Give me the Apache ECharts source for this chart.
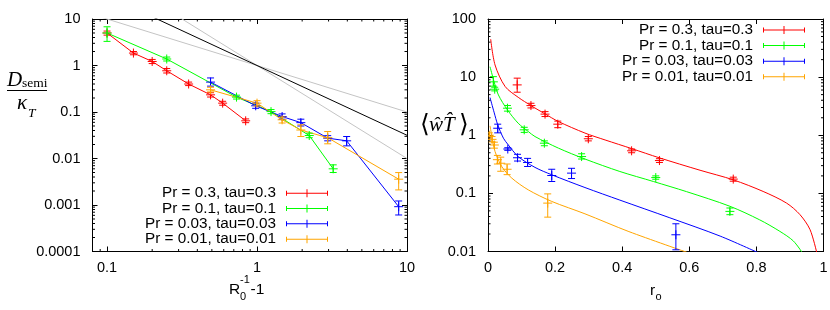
<!DOCTYPE html>
<html><head><meta charset="utf-8">
<script src="https://cdn.jsdelivr.net/npm/echarts@6/dist/echarts.min.js"></script>
<style>html,body{margin:0;padding:0;background:#fff}#c{width:830px;height:310px}</style>
</head><body><div id="c"></div>
<script>
// ---------- names / colours ----------
const seriesNames = ['Pr = 0.3, tau=0.3', 'Pr = 0.1, tau=0.1', 'Pr = 0.03, tau=0.03', 'Pr = 0.01, tau=0.01'];
const seriesColors = ['#ff0000', '#00ff00', '#0000ff', '#ffa500'];

// ---------- left panel: [x, y, yLow, yHigh] ----------
const leftPr03 = [[0.1,5.0,4.5,5.5],[0.15,1.85,1.7,2.0],[0.2,1.22,1.1,1.35],[0.25,0.77,0.69,0.86],[0.35,0.40,0.37,0.44],[0.49,0.234,0.21,0.26],[0.59,0.155,0.14,0.17],[0.84,0.0646,0.059,0.071]];
const leftPr01 = [[0.1,5.0,3.3,6.8],[0.25,1.38,1.25,1.52],[0.73,0.209,0.19,0.23],[1.24,0.102,0.092,0.113],[2.23,0.0312,0.028,0.035],[3.22,0.006,0.005,0.0073]];
const leftPr003 = [[0.49,0.44,0.36,0.54],[0.98,0.136,0.12,0.155],[1.47,0.08,0.07,0.091],[1.96,0.059,0.05,0.07],[2.96,0.0274,0.024,0.031],[3.96,0.024,0.0187,0.0297],[8.8,0.00092,0.00061,0.00122]];
const leftPr001 = [[0.49,0.30,0.27,0.34],[1.0,0.155,0.135,0.175],[1.47,0.068,0.058,0.078],[1.96,0.041,0.0297,0.053],[2.96,0.028,0.0207,0.038],[8.8,0.00359,0.00211,0.00498]];
// reference power-law lines (end points)
const refBlack = [[0.08,44.2],[10,0.0316]];
const refGrayA = [[0.08,12.5],[10,0.1]];
const refGrayB = [[0.08,156.25],[10,0.01]];

// ---------- right panel ----------
const rightPtsPr03 = [[0.087,7.35,5.5,9.6],[0.128,3.24,2.95,3.55],[0.17,2.31,2.1,2.55],[0.208,1.55,1.35,1.75],[0.299,0.87,0.8,0.95],[0.428,0.54,0.5,0.58],[0.511,0.367,0.34,0.395],[0.731,0.176,0.162,0.19]];
const rightPtsPr01 = [[0.016,8.3,7.0,10.2],[0.02,6.2,5.8,6.7],[0.058,2.92,2.6,3.25],[0.108,1.24,1.12,1.37],[0.168,0.73,0.66,0.8],[0.279,0.43,0.39,0.48],[0.5,0.187,0.175,0.2],[0.721,0.049,0.043,0.056]];
const rightPtsPr003 = [[0.029,1.32,1.1,1.55],[0.059,0.58,0.55,0.61],[0.088,0.41,0.36,0.47],[0.118,0.34,0.29,0.4],[0.19,0.203,0.16,0.26],[0.249,0.223,0.18,0.27],[0.56,0.0194,0.0107,0.03]];
const rightPtsPr001 = [[0.004,1.0,0.9,1.1],[0.012,0.85,0.77,0.95],[0.019,0.68,0.6,0.76],[0.028,0.38,0.32,0.45],[0.038,0.33,0.24,0.42],[0.057,0.26,0.21,0.32],[0.178,0.068,0.039,0.098]];
const rightCurvePr03 = [[0.008,45],[0.021,16.2],[0.051,6.9],[0.09,4.5],[0.128,3.24],[0.17,2.33],[0.21,1.72],[0.289,1.09],[0.349,0.83],[0.428,0.59],[0.51,0.41],[0.632,0.25],[0.731,0.171],[0.82,0.108],[0.89,0.068],[0.93,0.043],[0.96,0.0237],[0.98,0.0095]];
const rightCurvePr01 = [[0.006,15.1],[0.018,8.4],[0.031,4.94],[0.058,2.73],[0.09,1.61],[0.12,1.16],[0.14,0.95],[0.21,0.60],[0.289,0.39],[0.393,0.238],[0.493,0.16],[0.592,0.107],[0.721,0.06],[0.81,0.035],[0.87,0.0222],[0.91,0.0152],[0.937,0.0095]];
const rightCurvePr003 = [[0.006,4.45],[0.018,2.5],[0.029,1.51],[0.046,0.89],[0.059,0.70],[0.09,0.43],[0.14,0.28],[0.19,0.209],[0.289,0.126],[0.393,0.0766],[0.542,0.038],[0.692,0.0184],[0.806,0.0095]];
const rightCurvePr001 = [[0.006,1.45],[0.011,1.0],[0.021,0.525],[0.041,0.29],[0.071,0.183],[0.12,0.115],[0.19,0.0727],[0.289,0.0445],[0.42,0.022],[0.597,0.0095]];

// ---------- axes / ticks ----------
const leftXRange = [0.08, 10];
const leftYRange = [0.0001, 10];
const rightXRange = [0, 1];
const rightYRange = [0.01, 100];
const leftXTickLabels = ['0.1', '1', '10'];
const leftYTickLabels = ['0.0001', '0.001', '0.01', '0.1', '1', '10'];
const rightYTickLabels = ['0.01', '0.1', '1', '10', '100'];
const rightXTickLabels = ['0', '0.2', '0.4', '0.6', '0.8', '1'];
const leftXMinor = [0.09, 0.2, 0.3, 0.4, 0.5, 0.6, 0.7, 0.8, 0.9, 2, 3, 4, 5, 6, 7, 8, 9];
const leftYMinor = [];
[-4, -3, -2, -1, 0].forEach(e => { for (let m = 2; m <= 9; m++) leftYMinor.push(m * Math.pow(10, e)); });
const rightYMinor = [];
[-2, -1, 0, 1].forEach(e => { for (let m = 2; m <= 9; m++) rightYMinor.push(m * Math.pow(10, e)); });

const SANS = '"Liberation Sans", Arial, Helvetica, sans-serif';
const SERIF = '"Liberation Serif", "DejaVu Serif", serif';

function logLabel(labels, firstExp) {
  return function (v) {
    const l = Math.log10(v), e = Math.round(l);
    if (Math.abs(l - e) > 1e-6) return '';
    return labels[e - firstExp] || '';
  };
}

function makeAxis(opts) {
  return Object.assign({
    axisLine: { show: true, onZero: false, lineStyle: { color: '#000', width: 1 } },
    axisTick: { show: true, inside: true, length: 5, lineStyle: { color: '#000', width: 1 } },
    splitLine: { show: false },
    minorTick: { show: false },
    axisLabel: { show: true, color: '#000', fontSize: 14.5, fontFamily: SANS }
  }, opts);
}

const xAxes = [
  makeAxis({ type: 'log', gridIndex: 0, position: 'bottom', min: leftXRange[0], max: leftXRange[1],
    axisLabel: { color: '#000', fontSize: 14.5, fontFamily: SANS, margin: 9, formatter: logLabel(leftXTickLabels, -1), showMinLabel: true } }),
  makeAxis({ type: 'log', gridIndex: 0, position: 'top', min: leftXRange[0], max: leftXRange[1], axisLabel: { show: false } }),
  makeAxis({ type: 'value', gridIndex: 1, position: 'bottom', min: rightXRange[0], max: rightXRange[1], interval: 0.2,
    axisLabel: { color: '#000', fontSize: 14.5, fontFamily: SANS, margin: 9, formatter: (v) => rightXTickLabels[Math.round(v / 0.2)] } }),
  makeAxis({ type: 'value', gridIndex: 1, position: 'top', min: rightXRange[0], max: rightXRange[1], interval: 0.2, axisLabel: { show: false } })
];
const yAxes = [
  makeAxis({ type: 'log', gridIndex: 0, position: 'left', min: leftYRange[0], max: leftYRange[1],
    axisLabel: { color: '#000', fontSize: 14.5, fontFamily: SANS, margin: 12, formatter: logLabel(leftYTickLabels, -4) } }),
  makeAxis({ type: 'log', gridIndex: 0, position: 'right', min: leftYRange[0], max: leftYRange[1], axisLabel: { show: false } }),
  makeAxis({ type: 'log', gridIndex: 1, position: 'left', min: rightYRange[0], max: rightYRange[1],
    axisLabel: { color: '#000', fontSize: 14.5, fontFamily: SANS, margin: 12, formatter: logLabel(rightYTickLabels, -2) } }),
  makeAxis({ type: 'log', gridIndex: 1, position: 'right', min: rightYRange[0], max: rightYRange[1], axisLabel: { show: false } })
];

function errorBarSeries(data, color, axisIdx) {
  return {
    type: 'custom', xAxisIndex: axisIdx, yAxisIndex: axisIdx, z: 4, silent: true, clip: true,
    dimensions: ['x', 'y', 'lo', 'hi'], encode: { x: 0, y: 1 },
    data: data,
    renderItem: function (params, api) {
      const x = api.value(0), y = api.value(1), lo = api.value(2), hi = api.value(3);
      const p = api.coord([x, y]), pl = api.coord([x, lo]), ph = api.coord([x, hi]);
      const c = 3.5, s = 4.5;
      const st = { stroke: color, lineWidth: 1 };
      return { type: 'group', children: [
        { type: 'line', shape: { x1: p[0], y1: pl[1], x2: p[0], y2: ph[1] }, style: st },
        { type: 'line', shape: { x1: p[0] - c, y1: pl[1], x2: p[0] + c, y2: pl[1] }, style: st },
        { type: 'line', shape: { x1: p[0] - c, y1: ph[1], x2: p[0] + c, y2: ph[1] }, style: st },
        { type: 'line', shape: { x1: p[0] - s, y1: p[1], x2: p[0] + s, y2: p[1] }, style: st },
        { type: 'line', shape: { x1: p[0], y1: p[1] - s, x2: p[0], y2: p[1] + s }, style: st }
      ] };
    }
  };
}

function minorTickSeries(axisIdx, xMinors, yMinors, xr, yr) {
  return {
    type: 'custom', xAxisIndex: axisIdx, yAxisIndex: axisIdx, z: 6, silent: true, clip: false,
    data: [[xr[1], yr[1]]],
    renderItem: function (params, api) {
      const ch = [], L = 2.5, st = { stroke: '#000', lineWidth: 1 };
      xMinors.forEach(v => {
        const b = api.coord([v, yr[0]]), t = api.coord([v, yr[1]]);
        ch.push({ type: 'line', shape: { x1: b[0], y1: b[1], x2: b[0], y2: b[1] - L }, style: st });
        ch.push({ type: 'line', shape: { x1: t[0], y1: t[1], x2: t[0], y2: t[1] + L }, style: st });
      });
      yMinors.forEach(v => {
        const l = api.coord([xr[0], v]), r = api.coord([xr[1], v]);
        ch.push({ type: 'line', shape: { x1: l[0], y1: l[1], x2: l[0] + L, y2: l[1] }, style: st });
        ch.push({ type: 'line', shape: { x1: r[0], y1: r[1], x2: r[0] - L, y2: r[1] }, style: st });
      });
      return { type: 'group', children: ch };
    }
  };
}

const leftSets = [leftPr03, leftPr01, leftPr003, leftPr001];
const rightPts = [rightPtsPr03, rightPtsPr01, rightPtsPr003, rightPtsPr001];
const rightCurves = [rightCurvePr03, rightCurvePr01, rightCurvePr003, rightCurvePr001];

const series = [];
function refLine(data, color) {
  series.push({ type: 'line', xAxisIndex: 0, yAxisIndex: 0, data: data, showSymbol: false, silent: true, z: 1,
    lineStyle: { color: color, width: 1 }, itemStyle: { color: color } });
}
refLine(refGrayA, '#c4c4c4');
refLine(refGrayB, '#c4c4c4');
refLine(refBlack, '#000000');

leftSets.forEach((d, i) => {
  series.push({ type: 'line', name: seriesNames[i], xAxisIndex: 0, yAxisIndex: 0, z: 3,
    data: d.map(r => [r[0], r[1]]), showSymbol: false, silent: true,
    lineStyle: { color: seriesColors[i], width: 1 }, itemStyle: { color: seriesColors[i] } });
});
leftSets.forEach((d, i) => series.push(errorBarSeries(d, seriesColors[i], 0)));

rightCurves.forEach((d, i) => {
  series.push({ type: 'line', name: seriesNames[i], xAxisIndex: 2, yAxisIndex: 2, z: 3,
    data: d, showSymbol: false, silent: true, smooth: 0.3,
    lineStyle: { color: seriesColors[i], width: 1 }, itemStyle: { color: seriesColors[i] } });
});
rightPts.forEach((d, i) => series.push(errorBarSeries(d, seriesColors[i], 2)));

series.push(minorTickSeries(0, leftXMinor, leftYMinor, leftXRange, leftYRange));
series.push(minorTickSeries(2, [], rightYMinor, rightXRange, rightYRange));

const legendIcon = 'path://M0,3.5H42V4.5H0Z M0,1.5H1V6.5H0Z M41,1.5H42V6.5H41Z M20.5,0H21.5V8H20.5Z';
function legendAt(right, top, rowH) {
  return {
    data: seriesNames, orient: 'vertical', right: right, top: top, align: 'right', padding: 0,
    itemGap: 0, itemWidth: 42, itemHeight: 8, icon: legendIcon, symbolKeepAspect: false,
    selectedMode: false, itemStyle: { borderWidth: 0 },
    textStyle: { fontSize: 15.3, fontFamily: SANS, color: '#000', lineHeight: rowH, padding: [0, 5, 0, 0] }
  };
}

const graphics = [
  // left y title: D_semi / kappa_T
  { type: 'text', x: 7, y: 80, silent: true, style: { text: 'D', font: 'italic 21px ' + SERIF, fill: '#000', align: 'left', verticalAlign: 'middle' } },
  { type: 'text', x: 22, y: 83, silent: true, style: { text: 'semi', font: '13.5px ' + SERIF, fill: '#000', align: 'left', verticalAlign: 'middle' } },
  { type: 'line', silent: true, shape: { x1: 7, y1: 90.5, x2: 47, y2: 90.5 }, style: { stroke: '#000', lineWidth: 1 } },
  { type: 'text', x: 17, y: 103, silent: true, style: { text: 'κ', font: 'italic 21px ' + SERIF, fill: '#000', align: 'left', verticalAlign: 'middle' } },
  { type: 'text', x: 28, y: 113, silent: true, style: { text: 'T', font: 'italic 13.5px ' + SERIF, fill: '#000', align: 'left', verticalAlign: 'middle' } },
  // right y title
  { type: 'text', x: 420, y: 125, silent: true, style: { text: '⟨', font: '25px "DejaVu Serif", serif', fill: '#000', align: 'left', verticalAlign: 'middle' } },
  { type: 'text', x: 429, y: 125, silent: true, style: { text: 'ŵT̂', font: 'italic 21px ' + SERIF, fill: '#000', align: 'left', verticalAlign: 'middle' } },
  { type: 'text', x: 459, y: 125, silent: true, style: { text: '⟩', font: '25px "DejaVu Serif", serif', fill: '#000', align: 'left', verticalAlign: 'middle' } },
  // left x title: R_0^-1 - 1
  { type: 'text', x: 229, y: 290, silent: true, style: { text: 'R', font: '15.5px ' + SANS, fill: '#000', align: 'left', verticalAlign: 'middle' } },
  { type: 'text', x: 240, y: 296.5, silent: true, style: { text: '0', font: '11px ' + SANS, fill: '#000', align: 'left', verticalAlign: 'middle' } },
  { type: 'text', x: 240, y: 280, silent: true, style: { text: '-1', font: '11px ' + SANS, fill: '#000', align: 'left', verticalAlign: 'middle' } },
  { type: 'text', x: 250.5, y: 290, silent: true, style: { text: '-1', font: '15.5px ' + SANS, fill: '#000', align: 'left', verticalAlign: 'middle' } },
  // right x title: r_o
  { type: 'text', x: 650, y: 291, silent: true, style: { text: 'r', font: '15.5px ' + SANS, fill: '#000', align: 'left', verticalAlign: 'middle' } },
  { type: 'text', x: 655.5, y: 296.5, silent: true, style: { text: 'o', font: '11px ' + SANS, fill: '#000', align: 'left', verticalAlign: 'middle' } }
];

const chart = echarts.init(document.getElementById('c'), null, { renderer: 'canvas' });
chart.setOption({
  animation: false,
  backgroundColor: '#ffffff',
  grid: [
    { left: 92.5, top: 19, width: 314.5, height: 232.5, containLabel: false, outerBoundsMode: 'none' },
    { left: 488, top: 19, width: 335.5, height: 232.5, containLabel: false, outerBoundsMode: 'none' }
  ],
  xAxis: xAxes,
  yAxis: yAxes,
  legend: [legendAt(502, 185.6, 15.3), legendAt(25, 22.2, 15.6)],
  graphic: graphics,
  series: series
});
</script>
</body></html>
